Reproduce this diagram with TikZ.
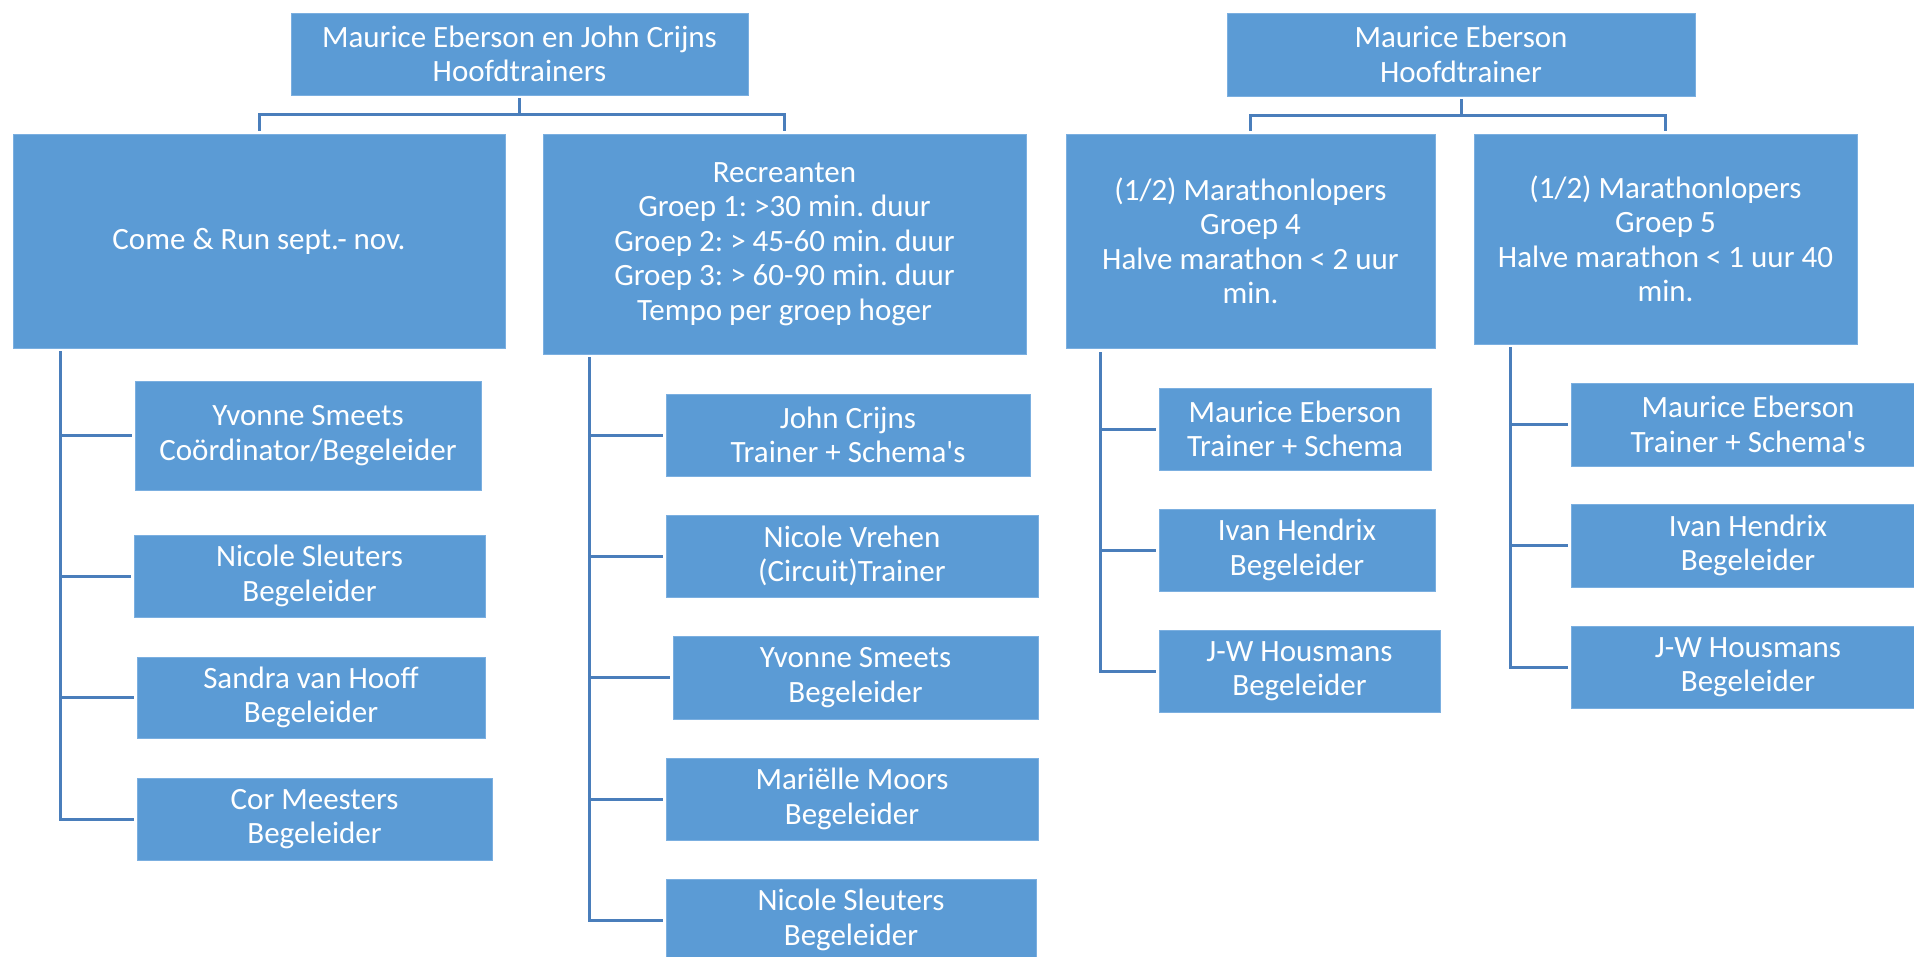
\documentclass[tikz,border=0pt]{standalone}
\usepackage{fontspec}
\setmainfont{Carlito}
\frenchspacing
\definecolor{boxblue}{HTML}{5B9BD5}
\definecolor{boxedge}{HTML}{7BAFE0}
\definecolor{lineblue}{HTML}{4A7EBB}
\begin{document}
\begin{tikzpicture}[x=1pt,y=-1pt,
  box/.style={fill=boxblue,draw=boxedge,line width=0.8pt,inner sep=0pt,align=center,
    text=white,font=\fontsize{31}{34.5}\selectfont\frenchspacing},
  conn/.style={draw=lineblue,line width=3pt}]
\useasboundingbox (0,0) rectangle (1914,957);
\clip (0,0) rectangle (1914,957);
\fill[white] (0,0) rectangle (1914,957);
% top level
\node[box,minimum width=457pt,minimum height=82pt] (T1) at (519.5,54) {Maurice Eberson en John Crijns\\Hoofdtrainers};
\node[box,minimum width=468pt,minimum height=83pt] (T2) at (1461,54.5) {Maurice Eberson\\Hoofdtrainer};
% second level
\node[box,minimum width=492pt,minimum height=214pt] (A) at (259,241) {Come \& Run sept.- nov.};
\node[box,minimum width=483pt,minimum height=220pt] (B) at (784.5,244) {Recreanten\\ Groep 1: >30 min. duur\\Groep 2: > 45-60 min. duur\\Groep 3: > 60-90 min. duur\\Tempo per groep hoger};
\node[box,minimum width=369pt,minimum height=214pt] (C) at (1250.5,241) {(1/2) Marathonlopers\\Groep 4\\Halve marathon < 2 uur\\min.};
\node[box,minimum width=383pt,minimum height=210pt] (D) at (1665.5,239) {(1/2) Marathonlopers\\Groep 5\\Halve marathon < 1 uur 40\\min.};
% children of A
\node[box,minimum width=346pt,minimum height=109pt] (A1) at (308,435.5) {Yvonne Smeets\\Coördinator/Begeleider};
\node[box,minimum width=351pt,minimum height=82pt] (A2) at (309.5,576) {Nicole Sleuters\\Begeleider};
\node[box,minimum width=348pt,minimum height=81pt] (A3) at (311,697.5) {Sandra van Hooff\\Begeleider};
\node[box,minimum width=355pt,minimum height=82pt] (A4) at (314.5,819) {Cor Meesters\\Begeleider};
% children of B
\node[box,minimum width=364pt,minimum height=82pt] (B1) at (848,435) {John Crijns\\ Trainer + Schema\textquotesingle s};
\node[box,minimum width=372pt,minimum height=82pt] (B2) at (852,556) {Nicole Vrehen\\(Circuit)Trainer};
\node[box,minimum width=365pt,minimum height=83pt] (B3) at (855.5,677.5) {Yvonne Smeets\\Begeleider};
\node[box,minimum width=372pt,minimum height=82pt] (B4) at (852,799) {Mariëlle Moors\\Begeleider};
\node[box,minimum width=370pt,minimum height=82pt] (B5) at (851,920) {Nicole Sleuters\\Begeleider};
% children of C
\node[box,minimum width=272pt,minimum height=82pt] (C1) at (1295,429) {Maurice Eberson\\Trainer + Schema};
\node[box,minimum width=276pt,minimum height=82pt] (C2) at (1297,550) {Ivan Hendrix\\Begeleider};
\node[box,minimum width=281pt,minimum height=82pt] (C3) at (1299.5,671) {J-W Housmans\\Begeleider};
% children of D
\node[box,minimum width=354pt,minimum height=83pt] (D1) at (1748,424.5) {Maurice Eberson\\Trainer + Schema\textquotesingle s};
\node[box,minimum width=354pt,minimum height=83pt] (D2) at (1748,545.5) {Ivan Hendrix\\Begeleider};
\node[box,minimum width=354pt,minimum height=82pt] (D3) at (1748,667) {J-W Housmans\\Begeleider};
% connectors top
\draw[conn] ([yshift=-3pt]T1.south) -- ++(0,16) -| ([yshift=3pt]A.north);
\draw[conn] ([yshift=-3pt]T1.south) -- ++(0,16) -| ([yshift=3pt]B.north);
\draw[conn] ([yshift=-3pt]T2.south) -- ++(0,16) -| ([yshift=3pt]C.north);
\draw[conn] ([yshift=-3pt]T2.south) -- ++(0,16) -| ([yshift=3pt]D.north);
% connectors to children
\foreach \c in {A1,A2,A3,A4}
  \draw[conn] ([xshift=48pt,yshift=-3pt]A.south west) |- ([xshift=-3pt]\c.west);
\foreach \c in {B1,B2,B3,B4,B5}
  \draw[conn] ([xshift=47pt,yshift=-3pt]B.south west) |- ([xshift=-3pt]\c.west);
\foreach \c in {C1,C2,C3}
  \draw[conn] ([xshift=35pt,yshift=-4pt]C.south west) |- ([xshift=-3pt]\c.west);
\foreach \c in {D1,D2,D3}
  \draw[conn] ([xshift=37pt,yshift=-3pt]D.south west) |- ([xshift=-3pt]\c.west);
\end{tikzpicture}
\end{document}
